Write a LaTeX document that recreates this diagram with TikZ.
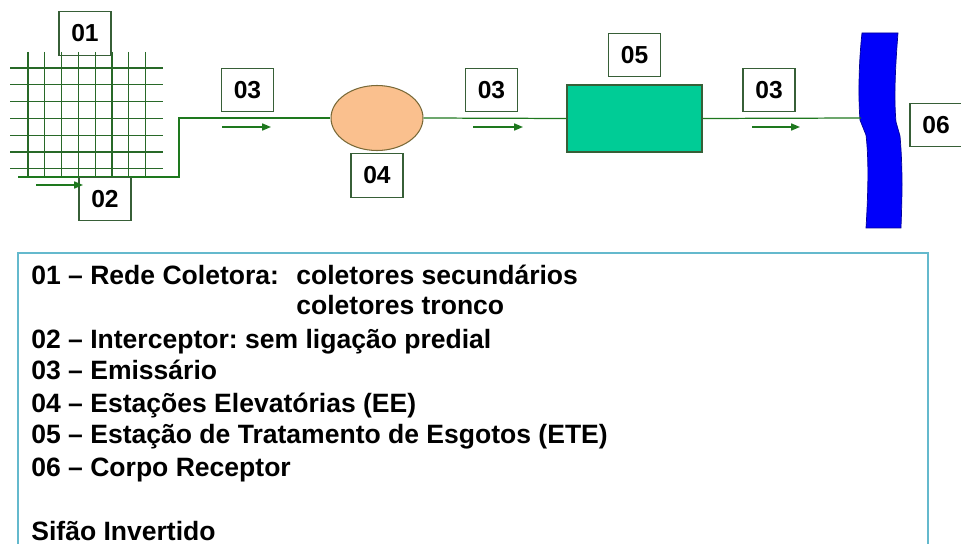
\documentclass[tikz,border=0pt]{standalone}
\usepackage{fontspec}
\setmainfont{Liberation Sans}
\usepackage{xcolor}
\usetikzlibrary{arrows.meta, positioning, shapes.geometric}
\frenchspacing

\definecolor{pipegreen}{RGB}{30,120,30}
\definecolor{gridgreen}{RGB}{40,105,40}
\definecolor{tagborder}{RGB}{55,95,55}
\definecolor{peach}{RGB}{250,192,142}
\definecolor{peachedge}{RGB}{120,105,55}
\definecolor{etegreen}{RGB}{0,204,150}
\definecolor{riverblue}{RGB}{0,0,250}
\definecolor{legendedge}{RGB}{100,185,205}

\begin{document}
\begin{tikzpicture}[
        x=0.02cm, y=-0.02cm,
        tag/.style={draw=tagborder, line width=0.6pt, inner sep=0pt,
            minimum width=1.04cm, minimum height=0.87cm,
            font=\fontsize{14}{16}\selectfont\bfseries},
        pipe/.style={draw=pipegreen, line width=0.7pt},
        flow/.style={draw=pipegreen, line width=0.8pt, -{Triangle[length=5pt, width=4pt]}},
        legend/.style={anchor=base west, inner sep=0pt,
            font=\fontsize{15.1}{18}\selectfont\bfseries}
    ]
    \useasboundingbox (0,0) rectangle (961,544);

    % Rede coletora (grid)
    \foreach \x in {28,44.8,...,146} \draw[gridgreen, line width=0.75pt] (\x,52) -- (\x,177);
    \foreach \y in {68,84.8,...,170} \draw[gridgreen, line width=0.75pt] (10,\y) -- (163,\y);

    % Nodes
    \coordinate (rede) at (18,177);
    \coordinate (canto) at (179,177);
    \coordinate (subida) at (179,118);
    \node[ellipse, draw=peachedge, fill=peach, line width=0.6pt,
        minimum width=1.84cm, minimum height=1.3cm] (ee) at (377,118) {};
    \node[rectangle, draw=tagborder, fill=etegreen, line width=0.6pt,
        minimum width=2.7cm, minimum height=1.34cm] (ete) at (634.5,118.5) {};
    \coordinate (rio) at (861,118);

    % Corpo receptor
    \draw[draw=blue!60!black, fill=riverblue, line width=0.4pt]
        (862,33) -- (898,33) .. controls (895,70) and (894,100) .. (896,122)
        -- (900,136) .. controls (903,170) and (902,200) .. (901,228)
        -- (866,228) .. controls (868,195) and (869,160) .. (866,135)
        -- (860,120) .. controls (858,95) and (859,60) .. (862,33) -- cycle;

    % Connectors
    \draw[pipe] (rede) -- (canto) -- (subida) -- (ee.west);
    \draw[pipe] (ee.east) -- (ete.west);
    \draw[pipe] (ete.east) -- (rio);

    % Labels
    \node[tag] (lab01) at (85,33.5) {01};
    \node[tag] (lab02) at (105,199) {02};
    \node[tag] (lab03a) at (247.5,90) {03};
    \node[tag, below=0.04cm of ee] (lab04) {04};
    \node[tag] (lab03b) at (491.5,90) {03};
    \node[tag, above=0.14cm of ete] (lab05) {05};
    \node[tag] (lab03c) at (769,90) {03};
    \node[tag] (lab06) at (936,125) {06};

    % Flow arrows
    \draw[flow] (36,185) -- (83,185);
    \draw[flow] (222,127) -- (271,127);
    \draw[flow] (473,127) -- (523,127);
    \draw[flow] (752,127) -- (800,127);

    % Legend
    \draw[legendedge, line width=0.8pt] (18,253) rectangle (928,560);
    \node[legend] (leg01) at (31,284) {01 – Rede Coletora:};
    \node[legend] (leg01a) at (296,284) {coletores secundários};
    \node[legend] (leg01b) at (296,315) {coletores tronco};
    \node[legend] (leg02) at (31,348) {02 – Interceptor: sem ligação predial};
    \node[legend] (leg03) at (31,379) {03 – Emissário};
    \node[legend] (leg04) at (31,412) {04 – Estações Elevatórias (EE)};
    \node[legend] (leg05) at (31,443) {05 – Estação de Tratamento de Esgotos (ETE)};
    \node[legend] (leg06) at (31,476) {06 – Corpo Receptor};
    \node[legend] (leg07) at (31,540) {Sifão Invertido};

\end{tikzpicture}
\end{document}
